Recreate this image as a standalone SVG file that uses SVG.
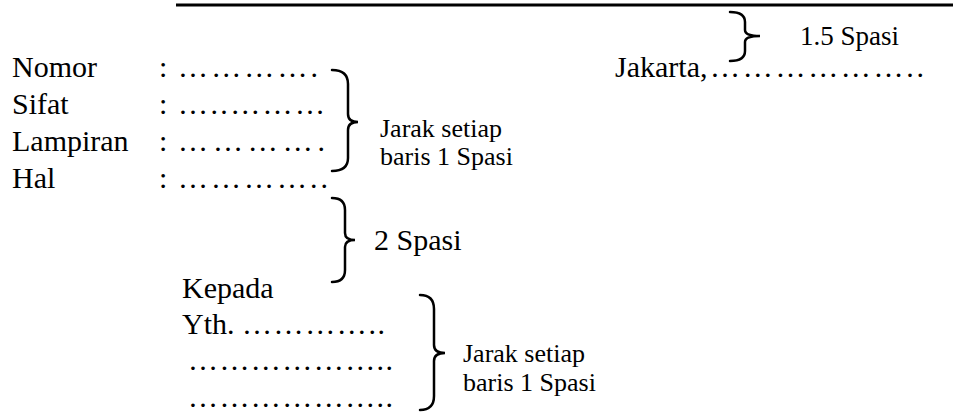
<svg xmlns="http://www.w3.org/2000/svg" width="953" height="412" viewBox="0 0 953 412">
<style>
text{font-family:'Liberation Serif','Times New Roman',Tinos,'DejaVu Serif',serif;fill:#000}
.m{font-size:30px}
.s{font-size:26px}
.b{fill:none;stroke:#000;stroke-width:2.5;stroke-linecap:round}
</style>
<rect width="953" height="412" fill="#fff"/>
<line x1="176" y1="5" x2="953" y2="5" stroke="#000" stroke-width="3"/>
<g font-family="Liberation Serif, Times New Roman, serif">
<g id="header">
<text class="m" x="12" y="77">Nomor</text>
<text class="m" x="12" y="114">Sifat</text>
<text class="m" x="12" y="151">Lampiran</text>
<text class="m" x="12" y="188">Hal</text>
<text class="m" x="159" y="77">:</text>
<text class="m" x="159" y="114">:</text>
<text class="m" x="159" y="151">:</text>
<text class="m" x="159" y="188">:</text>
<text class="m" x="178" y="77" textLength="140">………….</text>
<text class="m" x="178" y="114" textLength="147">…..………</text>
<text class="m" x="178" y="151" textLength="147">………….</text>
<text class="m" x="178" y="188" textLength="150">…………..</text>
</g>
<g id="date">
<text class="m" x="615" y="77">Jakarta,</text>
<text class="m" x="710" y="77" textLength="214">………………..</text>
</g>
<g id="recipient">
<text class="m" x="182" y="298">Kepada</text>
<text class="m" x="182" y="334">Yth.</text>
<text class="m" x="242" y="334" textLength="143">…………..</text>
<text class="m" x="188" y="370" textLength="205">………………..</text>
<text class="m" x="188" y="407" textLength="205">………………..</text>
</g>
<g id="braces">
<path class="b" d="M730,12 Q745,12 745,22 L745,30 Q745,36 760,36 Q745,36 745,42 L745,51 Q745,61 730,61"/>
<path class="b" d="M332,70 Q348,70 348,84 L348,114 Q348,122 358,122 Q348,122 348,130 L348,158 Q348,171 332,171"/>
<path class="b" d="M332,198 Q345,198 345,210 L345,233 Q345,240 355,240 Q345,240 345,247 L345,270 Q345,282 332,282"/>
<path class="b" d="M420,295 Q434,295 434,309 L434,345 Q434,353 445,353 Q434,353 434,361 L434,396 Q434,410 420,410"/>
</g>
<g id="labels">
<text x="800" y="45" font-size="27">1.5 Spasi</text>
<text class="s" x="380" y="137">Jarak setiap</text>
<text class="s" x="380" y="165">baris 1 Spasi</text>
<text class="m" x="374" y="250">2 Spasi</text>
<text class="s" x="463" y="362">Jarak setiap</text>
<text class="s" x="463" y="391">baris 1 Spasi</text>
</g>
</g>
</svg>
